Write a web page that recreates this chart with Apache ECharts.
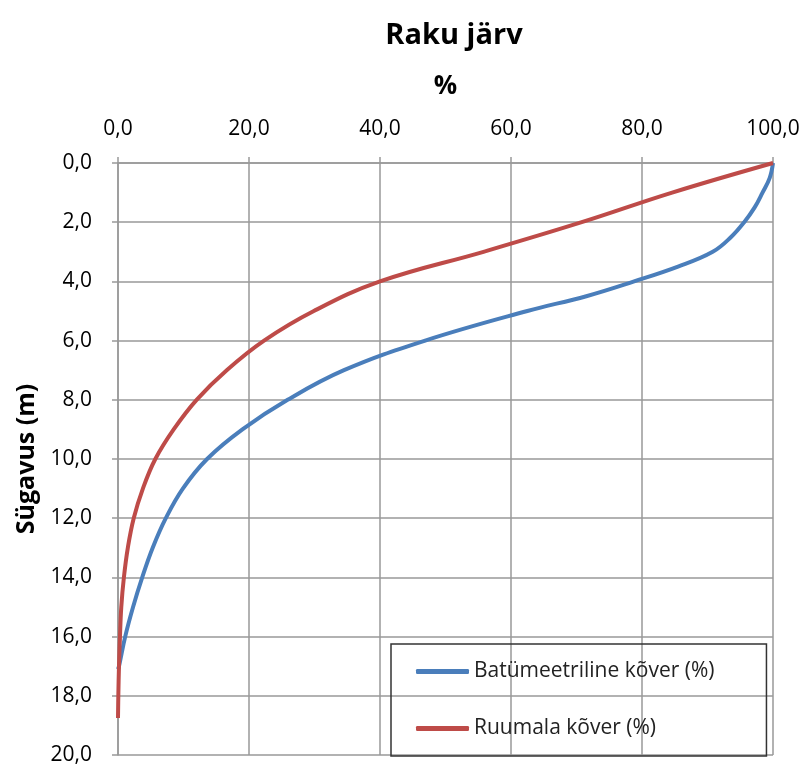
<!DOCTYPE html>
<html>
<head>
<meta charset="utf-8">
<script src="https://cdn.jsdelivr.net/npm/echarts@6/dist/echarts.min.js"></script>
<style>
html,body{margin:0;padding:0;background:#fff;}
#main{width:811px;height:767px;}
</style>
</head>
<body>
<div id="main"></div>
<script>
// sügavus (m) ja protsendid
var batDepth = [0, 0.5, 1, 1.5, 2, 2.5, 3, 3.5, 4, 4.5, 5, 6, 7, 8, 9, 10, 11, 12, 13, 14, 15, 16, 17, 17.1];
var batPct = [100, 99.5, 98.4, 97.2, 95.6, 93.6, 90.8, 85.5, 78.8, 71.5, 62.5, 46.9, 34.5, 25.9, 19, 13.6, 9.9, 7.3, 5.3, 3.7, 2.3, 1.1, 0.15, 0];
var ruuDepth = [0, 1, 2, 3, 4, 5, 6, 7, 8, 9, 10, 11, 12, 13, 14, 15, 16, 17, 18, 18.75];
var ruuPct = [100, 84.6, 70.8, 55.8, 40, 29.9, 22.3, 16.6, 12.0, 8.5, 5.7, 3.8, 2.4, 1.5, 0.9, 0.5, 0.3, 0.15, 0.05, 0];
var xTicks = [0, 20, 40, 60, 80, 100];
var yTicks = [0, 2, 4, 6, 8, 10, 12, 14, 16, 18, 20];

function pairs(px, dp) {
	var out = [];
	for (var i = 0; i < px.length; i++) out.push([px[i], dp[i]]);
	return out;
}
function fmt(v) {
	return v.toFixed(1).replace('.', ',');
}

var FONT = 'Open Sans';
var chart = echarts.init(document.getElementById('main'));
var gridLine = {show: true, lineStyle: {color: '#999', width: 1.5}};

var option = {
	backgroundColor: '#fff',
	animation: false,
	title: {
		text: 'Raku järv',
		left: 449, top: 16,
		textAlign: 'center',
		textStyle: {fontFamily: FONT, fontSize: 29, fontWeight: 'bold', color: '#000'}
	},
	grid: {left: 118, right: 38, top: 163, bottom: 12},
	legend: {
		orient: 'vertical',
		left: 391, top: 644,
		borderColor: '#333', borderWidth: 1.5,
		padding: [17, 52, 17, 25],
		icon: 'roundRect',
		itemWidth: 53, itemHeight: 5, itemGap: 36,
		textStyle: {fontFamily: FONT, fontSize: 21, lineHeight: 21, color: '#222'},
		data: ['Batümeetriline kõver (%)', 'Ruumala kõver (%)']
	},
	xAxis: {
		type: 'value', position: 'top',
		min: xTicks[0], max: xTicks[xTicks.length - 1], interval: 20,
		name: '%', nameLocation: 'middle', nameGap: 63,
		nameTextStyle: {fontFamily: FONT, fontSize: 26, fontWeight: 'bold', color: '#000'},
		axisLine: {show: true, lineStyle: {color: '#999', width: 1.5}},
		axisTick: {show: true, length: 6, lineStyle: {color: '#999', width: 1.5}},
		axisLabel: {margin: 23, fontFamily: FONT, fontSize: 21, color: '#000', formatter: fmt},
		splitLine: gridLine
	},
	yAxis: {
		type: 'value', inverse: true,
		min: yTicks[0], max: yTicks[yTicks.length - 1], interval: 2,
		name: 'Sügavus (m)', nameLocation: 'middle', nameGap: 78,
		nameTextStyle: {fontFamily: FONT, fontSize: 25, fontWeight: 'bold', color: '#000'},
		axisLine: {show: true, lineStyle: {color: '#999', width: 1.5}},
		axisTick: {show: true, length: 6, lineStyle: {color: '#999', width: 1.5}},
		axisLabel: {margin: 26, fontFamily: FONT, fontSize: 21, color: '#000', formatter: fmt},
		splitLine: gridLine
	},
	series: [
		{
			name: 'Batümeetriline kõver (%)', type: 'line',
			data: pairs(batPct, batDepth),
			smooth: 0.4, symbol: 'none',
			itemStyle: {color: '#4A7EBB'},
			lineStyle: {color: '#4A7EBB', width: 4}
		},
		{
			name: 'Ruumala kõver (%)', type: 'line',
			data: pairs(ruuPct, ruuDepth),
			smooth: 0.4, symbol: 'none',
			itemStyle: {color: '#BE4B48'},
			lineStyle: {color: '#BE4B48', width: 4}
		}
	]
};
chart.setOption(option);
</script>
</body>
</html>
